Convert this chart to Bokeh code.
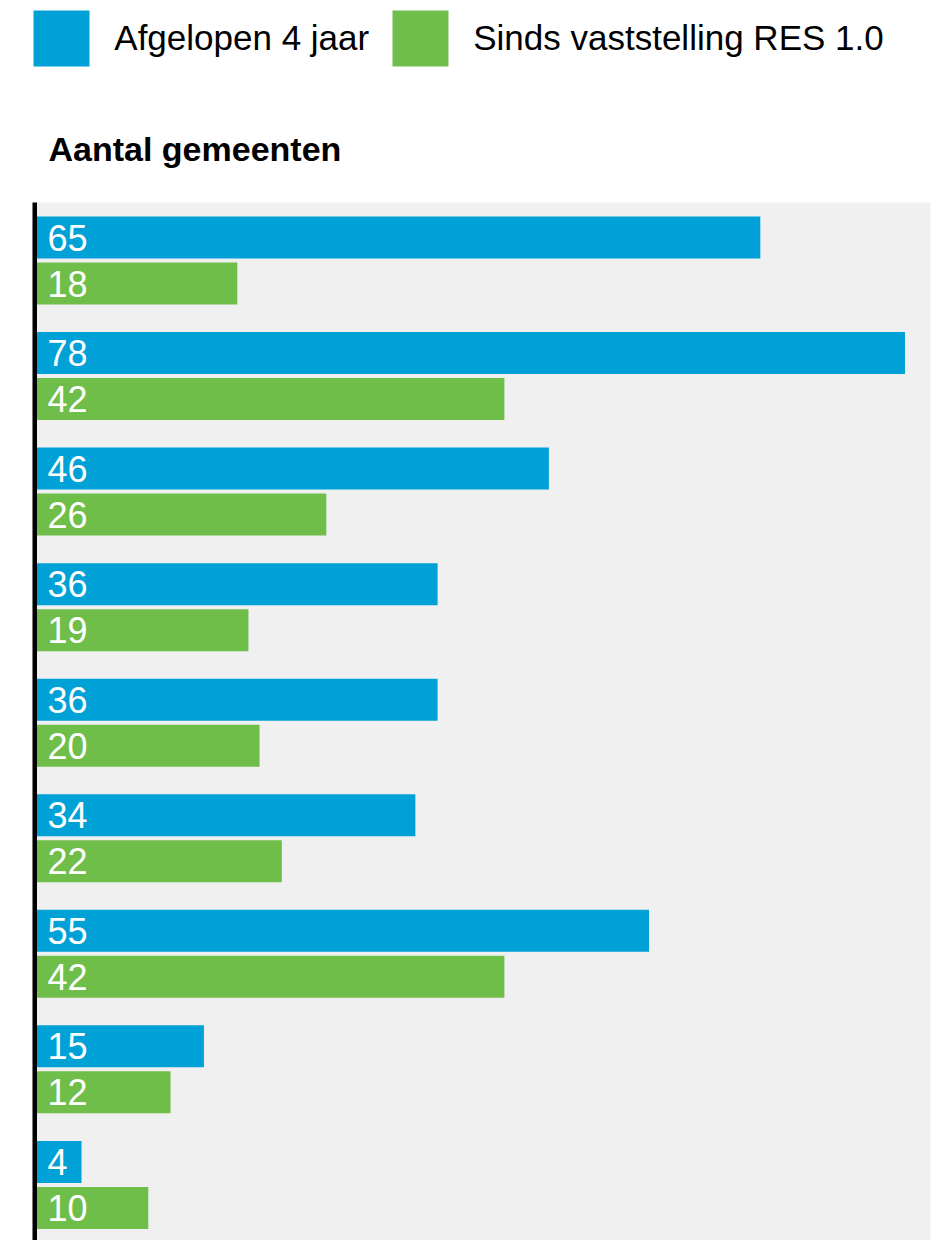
from bokeh.plotting import figure
from bokeh.models import (ColumnDataSource, Range1d, BoxAnnotation, Legend, LegendItem, Label)
from bokeh.transform import dodge
from bokeh.core.properties import value
from bokeh.embed import file_html
from bokeh.resources import INLINE

# ---- data ----
series_names = ["Afgelopen 4 jaar", "Sinds vaststelling RES 1.0"]
afgelopen_4_jaar = [65, 78, 46, 36, 36, 34, 55, 15, 4]
sinds_res_1_0 = [18, 42, 26, 19, 20, 22, 42, 12, 10]
rij = list(range(len(afgelopen_4_jaar)))
title_text = "Aantal gemeenten"

BLUE = "#00A1D6"
GREEN = "#70BE4A"
GRAY = "#F0F0F0"
FONT = "Liberation Sans"

# ---- layout (pixels) ----
W, H = 932, 1240
PX_PER_UNIT = 11.128        # horizontal px per gemeente
X0_PX = 36.5                # canvas x of value 0
PITCH = 115.55              # px per row group
G0_PX = 260.0               # canvas y of first group centre
PLOT_LEFT_PX, PLOT_RIGHT_PX, PLOT_TOP_PX = 32, 930, 202
BAR_H_PX, BAR_SHIFT_PX = 42.0, 23.0

def xd(px):
    return (px - X0_PX) / PX_PER_UNIT

def yd(px):
    return (px - G0_PX) / PITCH

p = figure(width=W, height=H, output_backend="svg", toolbar_location=None,
           x_range=Range1d(xd(0), xd(W)), y_range=Range1d(yd(H), yd(0)),
           x_axis_location=None, y_axis_location=None,
           min_border=0, min_border_left=0, min_border_right=0,
           min_border_top=0, min_border_bottom=0)
p.outline_line_color = None
p.xgrid.visible = False
p.ygrid.visible = False
p.background_fill_color = "white"
p.border_fill_color = "white"

# plot-area background and axis line
p.add_layout(BoxAnnotation(left=xd(PLOT_LEFT_PX), right=xd(PLOT_RIGHT_PX), top=yd(PLOT_TOP_PX),
                           fill_color=GRAY, fill_alpha=1, line_color=None, level="underlay"))
p.add_layout(BoxAnnotation(left=xd(PLOT_LEFT_PX), right=0, top=yd(PLOT_TOP_PX),
                           fill_color="black", fill_alpha=1, line_color=None, level="underlay"))

src = ColumnDataSource(dict(
    rij=rij,
    blue=afgelopen_4_jaar,
    green=sinds_res_1_0,
    blue_txt=[str(v) for v in afgelopen_4_jaar],
    green_txt=[str(v) for v in sinds_res_1_0],
    zero=[0] * len(rij),
))

shift = BAR_SHIFT_PX / PITCH
bh = BAR_H_PX / PITCH
r_blue = p.hbar(y=dodge("rij", -shift, range=p.y_range), left=0, right="blue", height=bh,
                source=src, fill_color=BLUE, line_color=None)
r_green = p.hbar(y=dodge("rij", shift, range=p.y_range), left=0, right="green", height=bh,
                 source=src, fill_color=GREEN, line_color=None)

for col, d in (("blue_txt", -shift), ("green_txt", shift)):
    p.text(x="zero", y=dodge("rij", d, range=p.y_range), text=col, source=src,
           text_color="white", text_font=value(FONT), text_font_size="36px",
           text_baseline="alphabetic", text_align="left", x_offset=10.5, y_offset=0)

legend = Legend(items=[LegendItem(label=series_names[0], renderers=[r_blue]),
                       LegendItem(label=series_names[1], renderers=[r_green])],
                location=(26.3, H - 70 - 3), orientation="horizontal",
                glyph_width=70, glyph_height=70, label_standoff=18, spacing=16,
                padding=0, margin=0, border_line_color=None, background_fill_alpha=0,
                label_text_font=FONT, label_text_font_size="35px", label_text_color="black")
p.add_layout(legend)

p.add_layout(Label(x=48, y=H - 148.5, x_units="screen", y_units="screen", text=title_text,
                   text_font=FONT, text_font_size="34px", text_font_style="bold",
                   text_color="black", text_baseline="alphabetic"))

open("out.html", "w").write(file_html(p, INLINE))
